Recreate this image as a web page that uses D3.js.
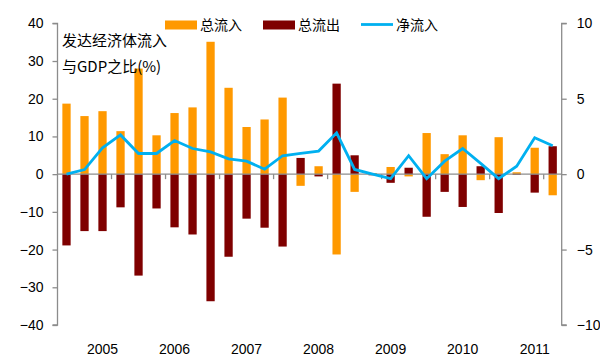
<!DOCTYPE html>
<meta charset="utf-8">
<head>
  <title>发达经济体流入与GDP之比</title>
</head>

<style>
body { margin: 0; background: #fff; }
text { font-family: "Liberation Sans", Arial, sans-serif; fill: #000; }
.cn { font-family: "Noto Sans CJK SC", sans-serif; }
</style>

<body>
  <svg width="600" height="359"></svg>

  <script src="https://cdnjs.cloudflare.com/ajax/libs/d3/7.8.5/d3.min.js"></script>

  <script>
// quarters from 2004Q3 to 2011Q2
var quarters = ['2004Q3','2004Q4',
  '2005Q1','2005Q2','2005Q3','2005Q4',
  '2006Q1','2006Q2','2006Q3','2006Q4',
  '2007Q1','2007Q2','2007Q3','2007Q4',
  '2008Q1','2008Q2','2008Q3','2008Q4',
  '2009Q1','2009Q2','2009Q3','2009Q4',
  '2010Q1','2010Q2','2010Q3','2010Q4',
  '2011Q1','2011Q2']

// 总流入 (left axis, %)
var inflow = [18.7, 15.4, 16.7, 11.4, 28.0, 10.3, 16.2, 17.7, 35.1, 22.9,
  12.5, 14.5, 20.3, -3.1, 2.1, -21.3, -4.7, 0.3, 1.9, -0.6,
  10.9, 5.3, 10.3, -1.6, 9.8, 0.5, 7.0, -5.6]

// 总流出 (left axis, %)
var outflow = [-18.9, -15.1, -15.1, -8.8, -26.9, -9.1, -14.1, -16.0, -33.7, -21.9,
  -11.8, -14.2, -19.2, 4.3, -0.6, 24.0, 5.0, -0.3, -2.3, 1.7,
  -11.3, -4.7, -8.7, 2.1, -10.3, -0.2, -4.9, 7.4]

// 净流入 (right axis, %)
var netflow = [0.0, 0.3, 1.75, 2.6, 1.37, 1.37, 2.23, 1.7, 1.48, 1.02,
  0.86, 0.33, 1.22, 1.37, 1.53, 2.74, 0.31, 0.0, -0.3, 1.22,
  -0.3, 0.86, 1.7, 0.71, -0.3, 0.53, 2.41, 1.88]

var leftTicks = [-40, -30, -20, -10, 0, 10, 20, 30, 40]
var rightTicks = [-10, -5, 0, 5, 10]
var yearLabels = ['2005', '2006', '2007', '2008', '2009', '2010', '2011']

var svg = d3.select('svg')
var plotL = 57.5, plotR = 561.7, plotT = 23.3, plotB = 325

var x = d3.scaleBand()
  .domain(quarters)
  .range([plotL, plotR])
  .paddingInner(0.54)
  .paddingOuter(0.27)

var y = d3.scaleLinear().domain([-40, 40]).range([plotB, plotT])
var y2 = d3.scaleLinear().domain([-10, 10]).range([plotB, plotT])

var orange = '#ff9900', darkred = '#7f0000', blue = '#00b0f0', grey = '#8c8c8c'

// bars
svg.append('g').selectAll('rect')
  .data(inflow)
  .enter()
  .append('rect')
  .attr('x', function(d, i) { return x(quarters[i]) })
  .attr('width', x.bandwidth())
  .attr('y', function(d) { return y(Math.max(0, d)) })
  .attr('height', function(d) { return Math.abs(y(d) - y(0)) })
  .attr('fill', orange)

svg.append('g').selectAll('rect')
  .data(outflow)
  .enter()
  .append('rect')
  .attr('x', function(d, i) { return x(quarters[i]) })
  .attr('width', x.bandwidth())
  .attr('y', function(d) { return y(Math.max(0, d)) })
  .attr('height', function(d) { return Math.abs(y(d) - y(0)) })
  .attr('fill', darkred)

// left axis
var gl = svg.append('g')
  .attr('transform', 'translate(' + plotL + ',0)')
  .call(d3.axisLeft(y).tickValues(leftTicks).tickSize(5).tickPadding(9))
gl.selectAll('path, line').attr('stroke', grey).attr('stroke-width', 1.3)
gl.select('path').attr('d', 'M-5,' + y(-40) + 'H0V' + y(40) + 'H-5')
gl.selectAll('text').attr('font-size', 14).attr('fill', '#000')
  .attr('font-family', '"Liberation Sans", Arial, sans-serif')

// right axis
var gr = svg.append('g')
  .attr('transform', 'translate(' + plotR + ',0)')
  .call(d3.axisRight(y2).tickValues(rightTicks).tickSize(5).tickPadding(10))
gr.selectAll('path, line').attr('stroke', grey).attr('stroke-width', 1.3)
gr.select('path').attr('d', 'M5,' + y2(-10) + 'H0V' + y2(10) + 'H5')
gr.selectAll('text').attr('font-size', 14).attr('fill', '#000')
  .attr('font-family', '"Liberation Sans", Arial, sans-serif')

// zero line with ticks every 3 quarters
var zeroY = y(0)
svg.append('line')
  .attr('x1', plotL).attr('x2', plotR)
  .attr('y1', zeroY).attr('y2', zeroY)
  .attr('stroke', grey).attr('stroke-width', 1.3)

svg.append('g').selectAll('line')
  .data(quarters.filter(function(q, i) { return i > 0 && i % 3 === 0 }))
  .enter()
  .append('line')
  .attr('x1', function(d) { return x(d) - x.step() * x.paddingInner() / 2 })
  .attr('x2', function(d) { return x(d) - x.step() * x.paddingInner() / 2 })
  .attr('y1', zeroY).attr('y2', zeroY + 5)
  .attr('stroke', grey).attr('stroke-width', 1.3)

// year labels under first quarter
svg.append('g').selectAll('text')
  .data(yearLabels)
  .enter()
  .append('text')
  .attr('x', function(d) { return x(d + 'Q1') + x.bandwidth() / 2 })
  .attr('y', 354)
  .attr('text-anchor', 'middle')
  .attr('font-size', 14)
  .text(function(d) { return d })

// net inflow line
var line = d3.line()
  .x(function(d, i) { return x(quarters[i]) + x.bandwidth() / 2 })
  .y(function(d) { return y2(d) })

svg.append('path')
  .datum(netflow)
  .attr('d', line)
  .attr('fill', 'none')
  .attr('stroke', blue)
  .attr('stroke-width', 2.8)
  .attr('stroke-linejoin', 'miter')

// annotation
svg.append('text').attr('class', 'cn')
  .attr('x', 62).attr('y', 46).attr('font-size', 15)
  .text('发达经济体流入')
svg.append('text').attr('class', 'cn')
  .attr('x', 62).attr('y', 72).attr('font-size', 15)
  .text('与GDP之比(%)')

// legend
var legend = [
  {name: '总流入', color: orange, type: 'rect', x: 165},
  {name: '总流出', color: darkred, type: 'rect', x: 263},
  {name: '净流入', color: blue, type: 'line', x: 361}
]
var lg = svg.append('g')
legend.forEach(function(l) {
  if (l.type === 'rect') {
    lg.append('rect').attr('x', l.x).attr('y', 20.5).attr('width', 32).attr('height', 9)
      .attr('fill', l.color)
  } else {
    lg.append('line').attr('x1', l.x).attr('x2', l.x + 32).attr('y1', 24.5).attr('y2', 24.5)
      .attr('stroke', l.color).attr('stroke-width', 2.8)
  }
  lg.append('text').attr('class', 'cn')
    .attr('x', l.x + 35).attr('y', 30).attr('font-size', 14)
    .text(l.name)
})
  </script>
</body>
</html>
